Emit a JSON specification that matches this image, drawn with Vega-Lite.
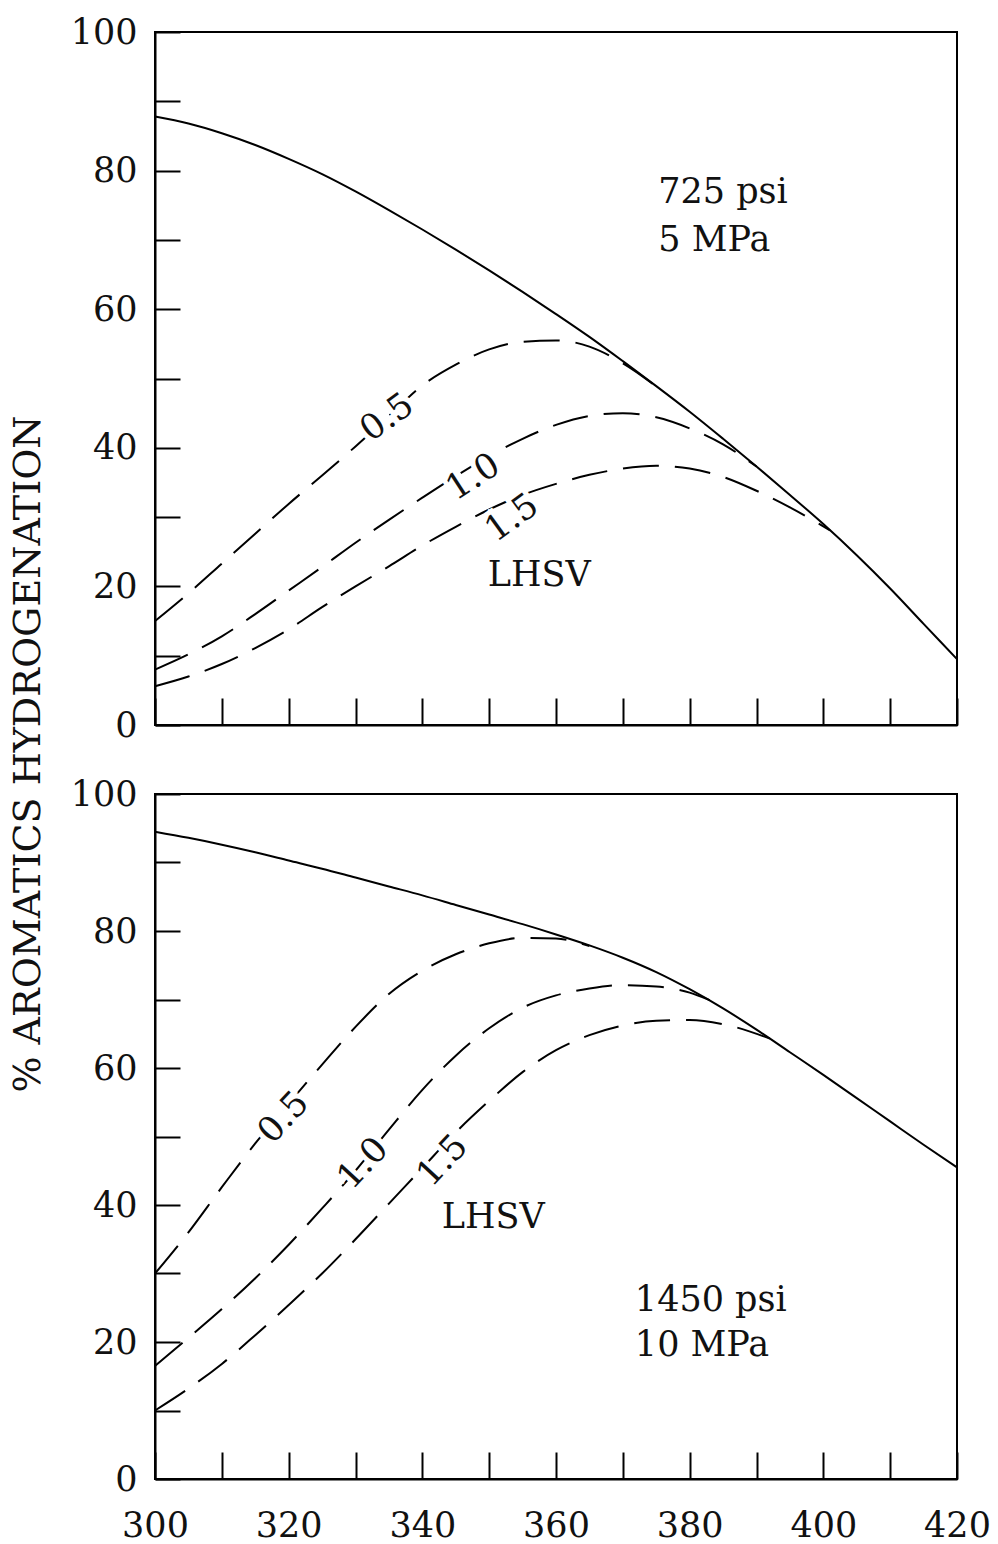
{
  "$schema": "https://vega.github.io/schema/vega-lite/v6.json",
  "background": "white",
  "padding": {"left": 10, "top": 14, "right": 5, "bottom": 5},
  "bounds": "flush",
  "spacing": 69,
  "title": {"text": "% AROMATICS HYDROGENATION", "orient": "left", "anchor": "middle", "font": "DejaVu Serif", "fontSize": 38, "fontWeight": "normal", "color": "#111", "offset": 21, "dx": 25},
  "datasets": {
    "top_solid": [
      {"T": 300, "v": 87.8}, {"T": 305, "v": 86.8}, {"T": 310, "v": 85.4}, {"T": 315, "v": 83.7},
      {"T": 320, "v": 81.7}, {"T": 325, "v": 79.5}, {"T": 330, "v": 77.0}, {"T": 335, "v": 74.3},
      {"T": 340, "v": 71.5}, {"T": 345, "v": 68.6}, {"T": 350, "v": 65.6}, {"T": 355, "v": 62.5},
      {"T": 360, "v": 59.3}, {"T": 365, "v": 56.0}, {"T": 370, "v": 52.5}, {"T": 375, "v": 48.9},
      {"T": 380, "v": 45.2}, {"T": 385, "v": 41.3}, {"T": 390, "v": 37.3}, {"T": 395, "v": 33.2},
      {"T": 400, "v": 29.0}, {"T": 405, "v": 24.5}, {"T": 410, "v": 19.7}, {"T": 415, "v": 14.6},
      {"T": 420, "v": 9.5}
    ],
    "top_dash": [
      {"s": "0.5", "T": 300, "v": 15.0}, {"s": "0.5", "T": 305, "v": 19.0}, {"s": "0.5", "T": 310, "v": 23.3},
      {"s": "0.5", "T": 315, "v": 27.6}, {"s": "0.5", "T": 320, "v": 31.9}, {"s": "0.5", "T": 325, "v": 36.0},
      {"s": "0.5", "T": 330, "v": 40.2}, {"s": "0.5", "T": 335, "v": 44.6}, {"s": "0.5", "T": 340, "v": 49.0},
      {"s": "0.5", "T": 345, "v": 52.0}, {"s": "0.5", "T": 350, "v": 54.2}, {"s": "0.5", "T": 355, "v": 55.3},
      {"s": "0.5", "T": 360, "v": 55.5}, {"s": "0.5", "T": 365, "v": 54.6}, {"s": "0.5", "T": 370, "v": 52.2},
      {"s": "0.5", "T": 376, "v": 48.1},
      {"s": "1.0", "T": 300, "v": 8.0}, {"s": "1.0", "T": 305, "v": 10.2}, {"s": "1.0", "T": 310, "v": 12.8},
      {"s": "1.0", "T": 315, "v": 16.0}, {"s": "1.0", "T": 320, "v": 19.4}, {"s": "1.0", "T": 325, "v": 22.8},
      {"s": "1.0", "T": 330, "v": 26.3}, {"s": "1.0", "T": 335, "v": 29.6}, {"s": "1.0", "T": 340, "v": 32.8},
      {"s": "1.0", "T": 345, "v": 35.9}, {"s": "1.0", "T": 350, "v": 38.8}, {"s": "1.0", "T": 355, "v": 41.3},
      {"s": "1.0", "T": 360, "v": 43.3}, {"s": "1.0", "T": 365, "v": 44.6}, {"s": "1.0", "T": 370, "v": 45.0},
      {"s": "1.0", "T": 375, "v": 44.4}, {"s": "1.0", "T": 380, "v": 42.8}, {"s": "1.0", "T": 385, "v": 40.5},
      {"s": "1.0", "T": 390, "v": 37.3},
      {"s": "1.5", "T": 300, "v": 5.6}, {"s": "1.5", "T": 305, "v": 7.0}, {"s": "1.5", "T": 310, "v": 8.8},
      {"s": "1.5", "T": 315, "v": 11.1}, {"s": "1.5", "T": 320, "v": 13.8}, {"s": "1.5", "T": 325, "v": 17.0},
      {"s": "1.5", "T": 330, "v": 20.0}, {"s": "1.5", "T": 335, "v": 22.9}, {"s": "1.5", "T": 340, "v": 25.9},
      {"s": "1.5", "T": 345, "v": 28.6}, {"s": "1.5", "T": 350, "v": 31.1}, {"s": "1.5", "T": 355, "v": 33.2},
      {"s": "1.5", "T": 360, "v": 34.8}, {"s": "1.5", "T": 365, "v": 36.1}, {"s": "1.5", "T": 370, "v": 37.0},
      {"s": "1.5", "T": 375, "v": 37.4}, {"s": "1.5", "T": 380, "v": 37.0}, {"s": "1.5", "T": 385, "v": 35.8},
      {"s": "1.5", "T": 390, "v": 33.8}, {"s": "1.5", "T": 395, "v": 31.4}, {"s": "1.5", "T": 401, "v": 28.1}
    ],
    "bot_solid": [
      {"T": 300, "v": 94.5}, {"T": 305, "v": 93.6}, {"T": 310, "v": 92.6}, {"T": 315, "v": 91.5},
      {"T": 320, "v": 90.3}, {"T": 325, "v": 89.1}, {"T": 330, "v": 87.8}, {"T": 335, "v": 86.5},
      {"T": 340, "v": 85.2}, {"T": 345, "v": 83.8}, {"T": 350, "v": 82.4}, {"T": 355, "v": 81.0},
      {"T": 360, "v": 79.5}, {"T": 365, "v": 77.9}, {"T": 370, "v": 76.1}, {"T": 375, "v": 74.0},
      {"T": 380, "v": 71.5}, {"T": 385, "v": 68.7}, {"T": 390, "v": 65.6}, {"T": 395, "v": 62.3},
      {"T": 400, "v": 59.0}, {"T": 405, "v": 55.6}, {"T": 410, "v": 52.2}, {"T": 415, "v": 48.8},
      {"T": 420, "v": 45.5}
    ],
    "bot_dash": [
      {"s": "0.5", "T": 300, "v": 30.0}, {"s": "0.5", "T": 305, "v": 36.0}, {"s": "0.5", "T": 310, "v": 42.6},
      {"s": "0.5", "T": 315, "v": 49.0}, {"s": "0.5", "T": 320, "v": 54.8}, {"s": "0.5", "T": 325, "v": 60.5},
      {"s": "0.5", "T": 330, "v": 66.0}, {"s": "0.5", "T": 335, "v": 70.8}, {"s": "0.5", "T": 340, "v": 74.2},
      {"s": "0.5", "T": 345, "v": 76.6}, {"s": "0.5", "T": 350, "v": 78.2}, {"s": "0.5", "T": 355, "v": 79.0},
      {"s": "0.5", "T": 360, "v": 78.9}, {"s": "0.5", "T": 365, "v": 77.8},
      {"s": "1.0", "T": 300, "v": 16.5}, {"s": "1.0", "T": 305, "v": 20.6}, {"s": "1.0", "T": 310, "v": 24.8},
      {"s": "1.0", "T": 315, "v": 29.3}, {"s": "1.0", "T": 320, "v": 34.2}, {"s": "1.0", "T": 325, "v": 39.5},
      {"s": "1.0", "T": 330, "v": 45.0}, {"s": "1.0", "T": 335, "v": 51.0}, {"s": "1.0", "T": 340, "v": 56.8},
      {"s": "1.0", "T": 345, "v": 61.8}, {"s": "1.0", "T": 350, "v": 65.8}, {"s": "1.0", "T": 355, "v": 68.8},
      {"s": "1.0", "T": 360, "v": 70.6}, {"s": "1.0", "T": 365, "v": 71.6}, {"s": "1.0", "T": 370, "v": 72.1},
      {"s": "1.0", "T": 375, "v": 71.9}, {"s": "1.0", "T": 380, "v": 71.0}, {"s": "1.0", "T": 383, "v": 69.9},
      {"s": "1.5", "T": 300, "v": 10.0}, {"s": "1.5", "T": 305, "v": 13.2}, {"s": "1.5", "T": 310, "v": 16.8},
      {"s": "1.5", "T": 315, "v": 21.0}, {"s": "1.5", "T": 320, "v": 25.4}, {"s": "1.5", "T": 325, "v": 30.0},
      {"s": "1.5", "T": 330, "v": 35.0}, {"s": "1.5", "T": 335, "v": 40.2}, {"s": "1.5", "T": 340, "v": 45.4},
      {"s": "1.5", "T": 345, "v": 50.6}, {"s": "1.5", "T": 350, "v": 55.2}, {"s": "1.5", "T": 355, "v": 59.4},
      {"s": "1.5", "T": 360, "v": 62.6}, {"s": "1.5", "T": 365, "v": 64.8}, {"s": "1.5", "T": 370, "v": 66.2},
      {"s": "1.5", "T": 375, "v": 66.9}, {"s": "1.5", "T": 380, "v": 67.0}, {"s": "1.5", "T": 385, "v": 66.4},
      {"s": "1.5", "T": 392, "v": 64.3}
    ],
    "top_curve_labels": [
      {"label": "0.5", "T": 334.7, "v": 44.4},
      {"label": "1.0", "T": 347.6, "v": 35.8},
      {"label": "1.5", "T": 353.4, "v": 29.9}
    ],
    "top_notes": [
      {"label": "LHSV", "T": 357.5, "v": 21.6, "a": "center"},
      {"label": "725 psi", "T": 375.3, "v": 76.9, "a": "left"},
      {"label": "5 MPa", "T": 375.3, "v": 70.0, "a": "left"}
    ],
    "bot_curve_labels": [
      {"label": "0.5", "T": 319.2, "v": 52.8},
      {"label": "1.0", "T": 331.1, "v": 46.1},
      {"label": "1.5", "T": 343.0, "v": 46.5}
    ],
    "bot_notes": [
      {"label": "LHSV", "T": 350.6, "v": 38.2, "a": "center"},
      {"label": "1450 psi", "T": 371.8, "v": 26.1, "a": "left"},
      {"label": "10 MPa", "T": 371.8, "v": 19.5, "a": "left"}
    ]
  },
  "vconcat": [
    {
      "width": 802,
      "height": 693,
      "encoding": {
        "x": {"field": "T", "type": "quantitative", "scale": {"domain": [300, 420], "nice": false, "zero": false},
              "axis": {"title": null, "values": [300, 310, 320, 330, 340, 350, 360, 370, 380, 390, 400, 410, 420], "labels": false, "tickSize": -27}},
        "y": {"field": "v", "type": "quantitative", "scale": {"domain": [0, 100], "nice": false},
              "axis": {"title": null, "values": [0, 10, 20, 30, 40, 50, 60, 70, 80, 90, 100], "labelExpr": "datum.value % 20 == 0 ? datum.label : ''", "tickSize": -25, "labelPadding": 43}}
      },
      "layer": [
        {"data": {"name": "top_solid"}, "mark": {"type": "line", "color": "black", "strokeWidth": 2, "interpolate": "monotone"}},
        {"data": {"name": "top_dash"}, "mark": {"type": "line", "color": "black", "strokeWidth": 2, "strokeDash": [36, 16], "interpolate": "monotone"},
         "encoding": {"detail": {"field": "s"}}},
        {"data": {"name": "top_curve_labels"}, "transform": [{"filter": "datum.label != '1.0'"}],
         "mark": {"type": "text", "angle": -36, "stroke": "white", "strokeWidth": 10, "color": "white"}, "encoding": {"text": {"field": "label"}}},
        {"data": {"name": "top_curve_labels"}, "transform": [{"filter": "datum.label == '1.0'"}],
         "mark": {"type": "text", "angle": -33, "stroke": "white", "strokeWidth": 10, "color": "white"}, "encoding": {"text": {"field": "label"}}},
        {"data": {"name": "top_curve_labels"}, "transform": [{"filter": "datum.label != '1.0'"}],
         "mark": {"type": "text", "angle": -36}, "encoding": {"text": {"field": "label"}}},
        {"data": {"name": "top_curve_labels"}, "transform": [{"filter": "datum.label == '1.0'"}],
         "mark": {"type": "text", "angle": -33}, "encoding": {"text": {"field": "label"}}},
        {"data": {"name": "top_notes"}, "transform": [{"filter": "datum.a == 'center'"}],
         "mark": {"type": "text", "align": "center"}, "encoding": {"text": {"field": "label"}}},
        {"data": {"name": "top_notes"}, "transform": [{"filter": "datum.a == 'left'"}],
         "mark": {"type": "text", "align": "left"}, "encoding": {"text": {"field": "label"}}}
      ]
    },
    {
      "width": 802,
      "height": 685,
      "encoding": {
        "x": {"field": "T", "type": "quantitative", "scale": {"domain": [300, 420], "nice": false, "zero": false},
              "axis": {"title": null, "values": [300, 310, 320, 330, 340, 350, 360, 370, 380, 390, 400, 410, 420], "labelExpr": "datum.value % 20 == 0 ? datum.label : ''", "tickSize": -27, "labelPadding": 56}},
        "y": {"field": "v", "type": "quantitative", "scale": {"domain": [0, 100], "nice": false},
              "axis": {"title": null, "values": [0, 10, 20, 30, 40, 50, 60, 70, 80, 90, 100], "labelExpr": "datum.value % 20 == 0 ? datum.label : ''", "tickSize": -25, "labelPadding": 43}}
      },
      "layer": [
        {"data": {"name": "bot_solid"}, "mark": {"type": "line", "color": "black", "strokeWidth": 2, "interpolate": "monotone"}},
        {"data": {"name": "bot_dash"}, "mark": {"type": "line", "color": "black", "strokeWidth": 2, "strokeDash": [36, 16], "interpolate": "monotone"},
         "encoding": {"detail": {"field": "s"}}},
        {"data": {"name": "bot_curve_labels"},
         "mark": {"type": "text", "angle": -47, "stroke": "white", "strokeWidth": 10, "color": "white"}, "encoding": {"text": {"field": "label"}}},
        {"data": {"name": "bot_curve_labels"},
         "mark": {"type": "text", "angle": -47}, "encoding": {"text": {"field": "label"}}},
        {"data": {"name": "bot_notes"}, "transform": [{"filter": "datum.a == 'center'"}],
         "mark": {"type": "text", "align": "center"}, "encoding": {"text": {"field": "label"}}},
        {"data": {"name": "bot_notes"}, "transform": [{"filter": "datum.a == 'left'"}],
         "mark": {"type": "text", "align": "left"}, "encoding": {"text": {"field": "label"}}}
      ]
    }
  ],
  "config": {
    "view": {"stroke": "black", "strokeWidth": 2},
    "axis": {"domainColor": "black", "domainWidth": 2, "tickColor": "black", "tickWidth": 2, "labelColor": "#111",
             "labelFont": "DejaVu Serif", "labelFontSize": 35, "grid": false, "labelOverlap": false, "labelFlush": false},
    "text": {"font": "DejaVu Serif", "fontSize": 35, "color": "#111", "baseline": "middle"}
  }
}
